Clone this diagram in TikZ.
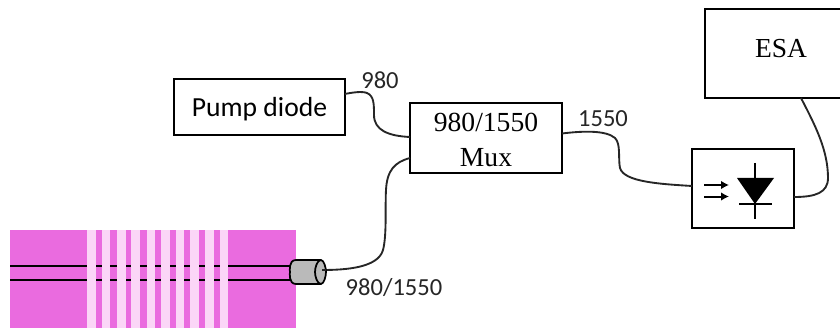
\documentclass[tikz,border=0pt]{standalone}
\usepackage{fontspec}
\usetikzlibrary{arrows.meta}
\setmainfont{Liberation Serif}
\newfontfamily\calfont{Carlito}
\begin{document}
\begin{tikzpicture}[x=0.75pt,y=-0.75pt,
  box/.style={draw=black,line width=1.5pt,fill=white,inner sep=0pt,outer sep=0pt,anchor=north west},
  fib/.style={line width=1.4pt,black!85},
  lab/.style={font=\calfont\fontsize{18.4}{20}\selectfont,text=black!85,inner sep=0pt},
  ser/.style={align=center,inner sep=0pt},
  core/.style={line width=1.4pt,black}]
\definecolor{pinkcol}{HTML}{EA6BDF}
\definecolor{stripecol}{HTML}{FBD6F7}
\useasboundingbox (0,0) rectangle (840,328);
% chip
\fill[pinkcol] (10,230) rectangle (296,328);
\draw[core] (10,266) -- (292,266);
\draw[core] (10,280) -- (292,280);
\foreach \a/\b in {87/96,102/110,117/126,131/140,147/155,161/170,176/184,190/199,205/214,220/228}
  \fill[stripecol] (\a,230) rectangle (\b,328);
% boxes
\node[box,minimum width=128.25pt,minimum height=42pt] (pump) at (174,79) {};
\node[ser,font=\calfont\fontsize{20.7}{24}\selectfont] (pumpt) at (259.5,109) {Pump diode};
\node[box,minimum width=114pt,minimum height=52.5pt] (mux) at (410,103) {};
\node[ser,font=\fontsize{20.7}{26}\selectfont] (muxt) at (486,140) {980/1550\\Mux};
\node[box,minimum width=120pt,minimum height=66.75pt] (esa) at (705,9) {};
\node[ser,font=\fontsize{20.6}{24}\selectfont] (esat) at (781,49) {ESA};
\node[box,minimum width=76.5pt,minimum height=59.25pt] (det) at (692,149) {};
% photodiode symbol
\coordinate (dtop) at (755,163);
\coordinate (dbot) at (755,219);
\fill[black] (737,178) -- (774,178) -- (755,204) -- cycle;
\draw[line width=1.3pt] (dtop) -- (dbot);
\draw[line width=1.3pt] (739,204) -- (772,204);
\draw[line width=1.5pt,-{Latex[length=6pt,width=6.5pt]}] (704,185) -- (729,185);
\draw[line width=1.5pt,-{Latex[length=6pt,width=6.5pt]}] (704,196.5) -- (729,196.5);
% connector ends
\coordinate (p1) at (345,94);
\coordinate (m1) at (410,137);
\coordinate (m2) at (410,158);
\coordinate (m3) at (562,133.5);
\coordinate (d1) at (692,186);
\coordinate (d2) at (794,197);
\coordinate (e1) at (801,98);
\coordinate (c1) at (322,270);
% fibres
\draw[fib] (p1) .. controls (352,92.5) and (362,91) .. (367,93) .. controls (374,96) and (374,104) .. (374,115) .. controls (374,130) and (388,136) .. (m1);
\draw[fib] (m3) .. controls (582,131) and (606,130) .. (615,138) .. controls (621,144) and (618,158) .. (620,168) .. controls (624,182) and (660,184) .. (d1);
\draw[fib] (m2) .. controls (395,162) and (387,170) .. (386,190) .. controls (385,205) and (387,235) .. (383,250) .. controls (378,268) and (345,270) .. (c1);
\draw[fib] (d2) .. controls (815,197) and (828,193) .. (828,178) .. controls (828,150) and (815,125) .. (e1);
% connector cap
\draw[line width=1.3pt,fill=black!27] (321,260) -- (296,260) .. controls (288,260) and (290,272) .. (290,272) .. controls (290,272) and (288,284) .. (296,284) -- (321,284) .. controls (324,284) and (326,276) .. (326,272) .. controls (326,268) and (324,260) .. (321,260) -- cycle;
\draw[line width=1.3pt] (321,260) .. controls (317,260) and (315,268) .. (315,272) .. controls (315,276) and (317,284) .. (321,284);
\draw[fib] (c1) -- (326,270);
% labels
\node[lab] (l980) at (380,80) {980};
\node[lab] (l1550) at (603,119) {1550};
\node[lab] (lboth) at (394,288) {980/1550};
\end{tikzpicture}
\end{document}
